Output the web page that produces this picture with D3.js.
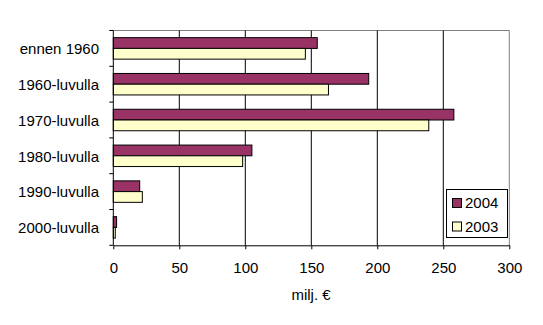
<!DOCTYPE html>
<html>
<head>
<meta charset="utf-8">
<script src="https://cdnjs.cloudflare.com/ajax/libs/d3/7.8.5/d3.min.js"></script>
<style>
  html, body { margin: 0; padding: 0; background: #fff; }
  svg { display: block; font-family: "Liberation Sans", Arial, sans-serif; }
</style>
</head>
<body>
<svg id="chart" width="543" height="325"></svg>
<script>
// Investment by construction decade, million euros
const categories = ["ennen 1960", "1960-luvulla", "1970-luvulla", "1980-luvulla", "1990-luvulla", "2000-luvulla"];
const seriesNames = ["2004", "2003"];
const values2004 = [154.5, 193.5, 258, 105, 20, 2.5];
const values2003 = [145.5, 163, 239, 98, 22, 1.5];
const xTicks = [0, 50, 100, 150, 200, 250, 300];
const seriesColors = ["#993366", "#FFFFCC"];

const svg = d3.select("#chart");
const plotLeft = 113.3, plotRight = 509.3, plotTop = 30.5, plotBottom = 245.3;

const x = d3.scaleLinear().domain([0, 300]).range([plotLeft, plotRight]);
const y = d3.scaleBand().domain(categories).range([plotTop, plotBottom]).paddingInner(0.4).paddingOuter(0.2);
const ySub = d3.scaleBand().domain(seriesNames).range([0, y.bandwidth()]);

// plot frame (top and right edges)
svg.append("path")
  .attr("d", `M${plotLeft},${plotTop}H${plotRight}V${plotBottom}`)
  .attr("fill", "none").attr("stroke", "#808080").attr("stroke-width", 1);

// vertical gridlines
svg.append("g").selectAll("line")
  .data(xTicks.filter(t => t > 0 && t < 300))
  .join("line")
  .attr("x1", d => x(d)).attr("x2", d => x(d))
  .attr("y1", plotTop).attr("y2", plotBottom)
  .attr("stroke", "#000").attr("stroke-width", 1);

// bars
const rows = categories.map((c, i) => ({ c, vals: [values2004[i], values2003[i]] }));
const grp = svg.append("g").selectAll("g").data(rows).join("g")
  .attr("transform", d => `translate(0,${y(d.c)})`);
grp.selectAll("rect")
  .data(d => d.vals.map((v, j) => ({ v, s: seriesNames[j], col: seriesColors[j] })))
  .join("rect")
  .attr("x", x(0))
  .attr("y", d => ySub(d.s))
  .attr("width", d => x(d.v) - x(0))
  .attr("height", ySub.bandwidth())
  .attr("fill", d => d.col)
  .attr("stroke", "#000").attr("stroke-width", 1);

// x axis
const xAxis = svg.append("g")
  .attr("transform", `translate(0,${plotBottom})`)
  .call(d3.axisBottom(x).tickValues(xTicks).tickSize(4).tickSizeOuter(0).tickPadding(13));
xAxis.select(".domain").attr("stroke", "#000");
xAxis.selectAll(".tick line").attr("stroke", "#000");
xAxis.selectAll("text").attr("font-size", 15).attr("fill", "#000")
  .attr("font-family", "Liberation Sans, Arial, sans-serif");

// y axis: ticks at category boundaries
const boundaries = d3.range(categories.length + 1).map(i => plotTop + i * (plotBottom - plotTop) / categories.length);
svg.append("line").attr("x1", plotLeft).attr("x2", plotLeft).attr("y1", plotTop).attr("y2", plotBottom)
  .attr("stroke", "#000");
svg.append("g").selectAll("line").data(boundaries).join("line")
  .attr("x1", plotLeft - 4).attr("x2", plotLeft).attr("y1", d => d).attr("y2", d => d)
  .attr("stroke", "#000");
svg.append("g").selectAll("text").data(categories).join("text")
  .attr("x", 99)
  .attr("y", d => y(d) + y.bandwidth() / 2 + 0.5)
  .attr("dy", "0.35em")
  .attr("text-anchor", "end")
  .attr("font-size", 15)
  .attr("fill", "#000")
  .text(d => d);

// axis title
svg.append("text")
  .attr("x", 311).attr("y", 300)
  .attr("text-anchor", "middle")
  .attr("font-size", 15)
  .attr("fill", "#000")
  .text("milj. €");

// legend
const lg = svg.append("g");
lg.append("rect").attr("x", 446.5).attr("y", 189.5).attr("width", 61).attr("height", 48)
  .attr("fill", "#fff").attr("stroke", "#000");
seriesNames.forEach((s, i) => {
  const cy = 203 + i * 23.5;
  lg.append("rect").attr("x", 452.5).attr("y", cy - 4.5).attr("width", 9).attr("height", 9)
    .attr("fill", seriesColors[i]).attr("stroke", "#000");
  lg.append("text").attr("x", 465).attr("y", cy).attr("dy", "0.35em")
    .attr("font-size", 15).attr("fill", "#000").text(s);
});
</script>
</body>
</html>
